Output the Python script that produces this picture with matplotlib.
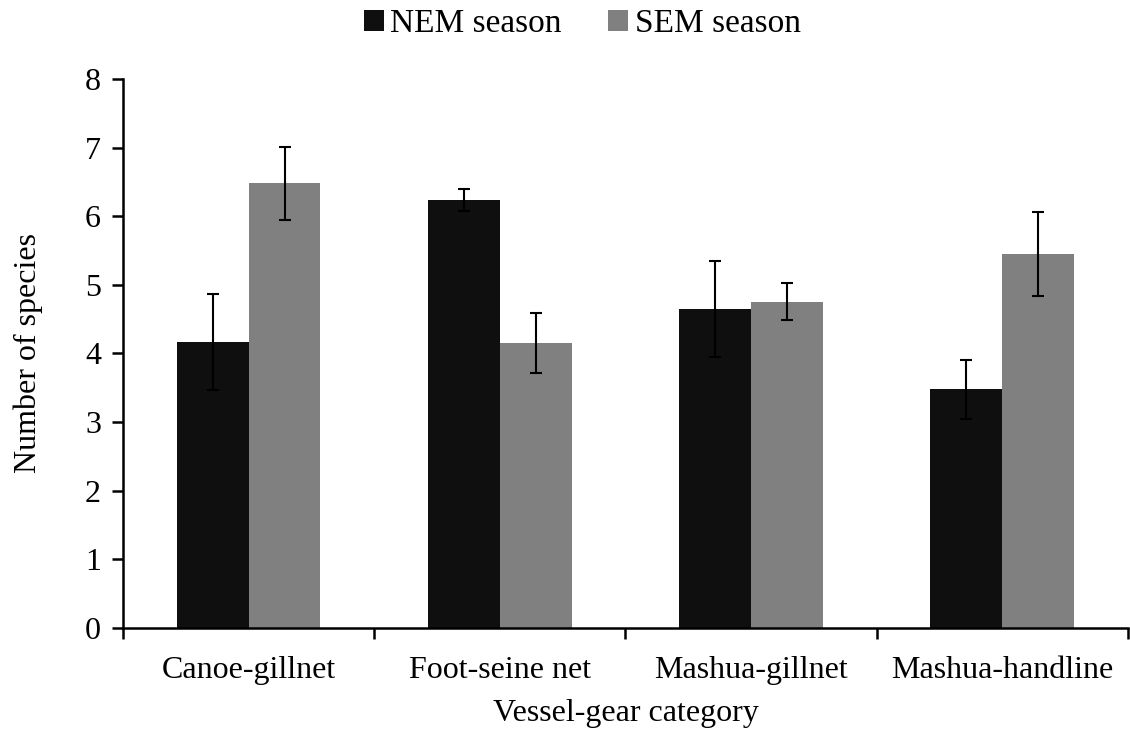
import matplotlib

matplotlib.use("Agg")

import matplotlib.pyplot as plt
import numpy as np
from matplotlib.ticker import FixedLocator, NullFormatter

categories = ["Canoe-gillnet", "Foot-seine net", "Mashua-gillnet", "Mashua-handline"]
nem_mean = [4.17, 6.24, 4.65, 3.48]
nem_err = [0.70, 0.16, 0.70, 0.43]
sem_mean = [6.48, 4.15, 4.75, 5.45]
sem_err = [0.53, 0.44, 0.27, 0.61]
series_labels = ["NEM season", "SEM season"]

plt.rcParams["font.family"] = ["Liberation Serif", "DejaVu Serif"]
FS = 23

fig = plt.figure(figsize=(11.3, 7.31), dpi=100)
ax = fig.add_axes((0.109, 0.141, 0.889, 0.751))

x = np.arange(len(categories))
w = 1 / 3.5
err_kw = dict(ecolor="black", elinewidth=1.5, capsize=4.5, capthick=1.5)
ax.bar(x - w / 2, nem_mean, w, yerr=nem_err, color="#0f0f0f", label=series_labels[0],
       error_kw=err_kw)
ax.bar(x + w / 2, sem_mean, w, yerr=sem_err, color="#808080", label=series_labels[1],
       error_kw=err_kw)

ax.set_xlim(-0.5, len(categories) - 0.5)
ax.set_ylim(0, 8)
ax.set_yticks(range(0, 9))
ax.set_xticks(x)
ax.set_xticklabels(categories, fontsize=FS)
ax.xaxis.set_minor_locator(FixedLocator(np.arange(-0.5, len(categories), 1.0)))
ax.xaxis.set_minor_formatter(NullFormatter())
ax.tick_params(axis="x", which="major", length=0, pad=20)
ax.tick_params(axis="x", which="minor", length=8, width=1.8, direction="out")
ax.tick_params(axis="y", length=8, width=1.8, direction="out", labelsize=FS, pad=8)

for side in ("top", "right"):
    ax.spines[side].set_visible(False)
for side in ("left", "bottom"):
    ax.spines[side].set_linewidth(1.8)

ax.set_ylabel("Number of species", fontsize=FS, labelpad=30)
ax.set_xlabel("Vessel-gear category", fontsize=FS, labelpad=10)

ax.legend(loc="upper center", bbox_to_anchor=(0.457, 1.152), ncol=2, frameon=False,
          borderaxespad=0, fontsize=24, handlelength=0.6, handleheight=0.6,
          handletextpad=0.2, columnspacing=1.4)

fig.savefig("out.png", dpi=100)
